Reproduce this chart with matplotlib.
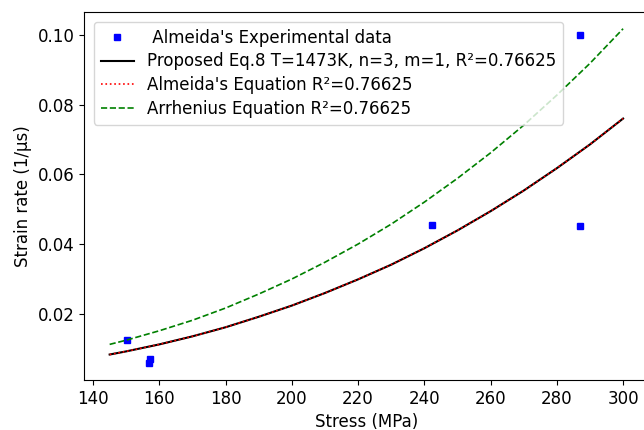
import matplotlib.pyplot as plt
import numpy as np

# valores
stress_exp = [150.2, 156.8, 157.3, 242.4, 287.1, 287.1]
rate_exp = [0.0126, 0.0060, 0.0071, 0.0455, 0.0453, 0.0998]

stress_fit = [145, 150, 160, 170, 180, 190, 200, 210, 220, 230, 240, 250, 260, 270, 280, 290, 300]
rate_proposed = [0.0085, 0.0094, 0.0114, 0.0137, 0.0163, 0.0193, 0.0225, 0.0261, 0.0300,
                 0.0342, 0.0389, 0.0440, 0.0495, 0.0554, 0.0618, 0.0686, 0.0760]
rate_almeida = rate_proposed
rate_arrhenius = [0.0114, 0.0126, 0.0153, 0.0183, 0.0218, 0.0258, 0.0301, 0.0349, 0.0401,
                  0.0458, 0.0521, 0.0589, 0.0662, 0.0741, 0.0827, 0.0918, 0.1017]

plt.rcParams['font.size'] = 12

fig = plt.figure(figsize=(6.44, 4.30), dpi=100)
ax = fig.add_axes([0.1304, 0.1163, 0.877, 0.8558])

ax.plot(stress_exp, rate_exp, 's', color='blue', markersize=5, label=" Almeida's Experimental data")
ax.plot(stress_fit, rate_proposed, '-', color='black', linewidth=1.5,
        label='Proposed Eq.8 T=1473K, n=3, m=1, R²=0.76625')
ax.plot(stress_fit, rate_almeida, ':', color='red', linewidth=1.2,
        label="Almeida's Equation R²=0.76625")
ax.plot(stress_fit, rate_arrhenius, '--', color='green', linewidth=1.2,
        label='Arrhenius Equation R²=0.76625')

ax.set_xlabel('Stress (MPa)')
ax.set_ylabel('Strain rate (1/µs)')
ax.set_xticks(np.arange(140, 301, 20))
ax.set_yticks([0.02, 0.04, 0.06, 0.08, 0.10])
ax.legend(loc='upper left', handlelength=2.0, labelspacing=0.35, borderaxespad=0.6)

fig.savefig('out.png', dpi=100)
